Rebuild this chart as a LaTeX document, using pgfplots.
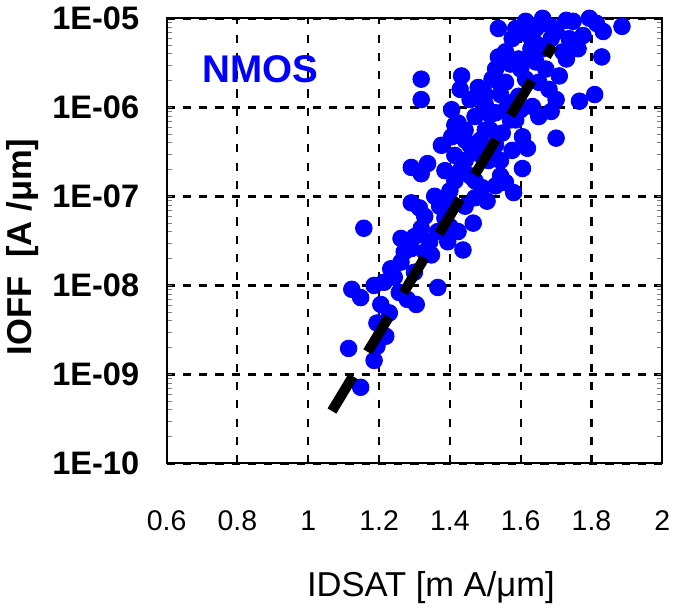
\documentclass[border=0pt]{standalone}
\usepackage{pgfplots}
\pgfplotsset{compat=1.18}
\usepackage{fontspec}
\setmainfont{Liberation Sans}

\begin{document}
\begin{tikzpicture}
\begin{axis}[
    width=244pt, height=219pt,
    scale only axis,
    xmin=0.6, xmax=2,
    ymode=log, ymin=1e-10, ymax=1e-5,
    xtick={0.6,0.8,1,1.2,1.4,1.6,1.8,2},
    xticklabels={0.6,0.8,1,1.2,1.4,1.6,1.8,2},
    ytick={1e-10,1e-9,1e-8,1e-7,1e-6,1e-5},
    yticklabels={1E-10,1E-09,1E-08,1E-07,1E-06,1E-05},
    xticklabel style={font=\fontsize{14}{16}\selectfont, yshift=-20pt},
    yticklabel style={font=\fontsize{16}{18}\selectfont\bfseries, xshift=-10pt},
    major tick length=0pt,
    minor tick num=0,
    grid=major,
    major x grid style={black, line width=1pt, dash pattern=on 4pt off 5pt},
    major y grid style={black, line width=1.6pt, dash pattern=on 4pt off 4pt},
    axis line style={black, line width=0.9pt},
    xlabel={IDSAT [m A/μm]},
    ylabel={IOFF\ \ [A /μm]},
    xlabel style={font=\fontsize{17}{19}\selectfont, at={(axis description cs:0.533,0)}, anchor=center, yshift=-61pt},
    ylabel style={font=\fontsize{17}{19}\selectfont\bfseries, at={(axis description cs:-0.29,0.486)}, anchor=center},
    clip mode=individual,
]
% measured devices
\addplot[only marks, mark=*, mark size=4.1pt, blue, mark options={fill=blue, draw=blue}] coordinates {
(1.148,7.13e-10) (1.114,1.95e-9) (1.186,1.43e-9) (1.194,2.06e-9) (1.219,2.67e-9)
(1.194,3.76e-9) (1.205,6.08e-9) (1.123,9.0e-9) (1.148,7.26e-9) (1.186,9.95e-9)
(1.280,6.93e-9) (1.305,6.08e-9) (1.366,9.44e-9) (1.233,1.53e-8) (1.262,1.82e-8)
(1.291,2.58e-8) (1.262,3.36e-8) (1.348,2.19e-8) (1.319,4.37e-8) (1.366,4.01e-8)
(1.157,4.37e-8) (1.291,8.43e-8) (1.314,7.40e-8) (1.394,3.08e-8) (1.437,2.49e-8)
(1.466,4.99e-8) (1.423,4.01e-8) (1.386,5.69e-8) (1.394,8.81e-8) (1.471,9.62e-8)
(1.505,8.81e-8) (1.580,1.10e-7) (1.557,1.43e-7) (1.491,1.25e-7) (1.291,2.11e-7)
(1.337,2.33e-7) (1.319,1.79e-7) (1.386,1.94e-7) (1.414,1.49e-7) (1.605,2.05e-7)
(1.509,2.52e-7) (1.480,3.03e-7) (1.576,3.28e-7) (1.619,3.46e-7) (1.376,3.74e-7)
(1.405,4.66e-7) (1.443,4.27e-7) (1.700,4.50e-7) (1.605,4.66e-7) (1.548,5.13e-7)
(1.423,6.67e-7) (1.405,9.40e-7) (1.471,7.87e-7) (1.529,8.67e-7) (1.651,7.87e-7)
(1.686,8.97e-7) (1.576,1.13e-6) (1.633,1.02e-6) (1.319,1.22e-6) (1.319,2.07e-6)
(1.433,2.25e-6) (1.480,1.67e-6) (1.519,2.07e-6) (1.557,1.91e-6) (1.594,1.33e-6)
(1.651,1.91e-6) (1.709,2.25e-6) (1.671,2.69e-6) (1.766,1.17e-6) (1.809,1.39e-6)
(1.537,3.68e-6) (1.557,4.20e-6) (1.594,3.49e-6) (1.643,3.23e-6) (1.662,4.55e-6)
(1.719,4.20e-6) (1.762,4.55e-6) (1.829,3.68e-6) (1.833,7.11e-6) (1.886,8.11e-6)
(1.794,1.0e-5) (1.748,9.25e-6) (1.700,7.11e-6) (1.662,1.0e-5) (1.614,9.25e-6)
(1.537,7.69e-6) (1.576,5.91e-6) (1.623,6.40e-6) (1.737,5.91e-6) (1.776,6.40e-6)
(1.514,5.55e-7) (1.443,2.52e-7) (1.414,2.88e-7) (1.457,1.22e-6) (1.500,1.39e-6)
(1.543,1.39e-6) (1.586,7.21e-7) (1.529,3.74e-7) (1.571,3.06e-6) (1.614,2.07e-6)
(1.680,1.59e-6) (1.700,1.22e-6) (1.729,3.49e-6) (1.686,5.91e-6) (1.629,4.55e-6)
(1.586,7.69e-6) (1.500,5.55e-7) (1.357,1.00e-7) (1.443,7.73e-8) (1.400,4.57e-8)
(1.329,2.37e-8) (1.300,1.40e-8) (1.257,8.28e-9) (1.229,4.89e-9) (1.457,1.70e-7)
(1.543,1.70e-7) (1.514,8.24e-7) (1.429,1.59e-6) (1.529,2.69e-6) (1.643,7.69e-6)
(1.414,6.32e-7) (1.443,5.55e-7) (1.486,4.27e-7) (1.514,3.28e-7) (1.457,3.74e-7)
(1.543,2.52e-7) (1.429,1.94e-7) (1.471,1.49e-7) (1.529,1.31e-7) (1.400,1.15e-7)
(1.371,7.73e-8) (1.329,5.94e-8) (1.300,3.52e-8) (1.343,3.08e-8) (1.271,2.37e-8)
(1.243,1.23e-8) (1.214,1.08e-8) (1.571,7.21e-7) (1.600,9.40e-7) (1.557,9.40e-7)
(1.500,1.07e-6) (1.543,1.81e-6) (1.600,2.69e-6) (1.629,3.49e-6) (1.643,5.19e-6)
(1.686,8.11e-6) (1.729,9.49e-6) (1.814,8.77e-6)
};
% trend line
\addplot[black, line width=5pt, line cap=butt, dash pattern=on 20pt off 14pt, dash phase=0pt] coordinates {
(1.067,3.86e-10) (1.691,4.95e-6)
};
\node[blue, font=\fontsize{19}{22}\selectfont\bfseries] at (axis description cs:0.19,0.886) {NMOS};
\end{axis}
\end{tikzpicture}
\end{document}
